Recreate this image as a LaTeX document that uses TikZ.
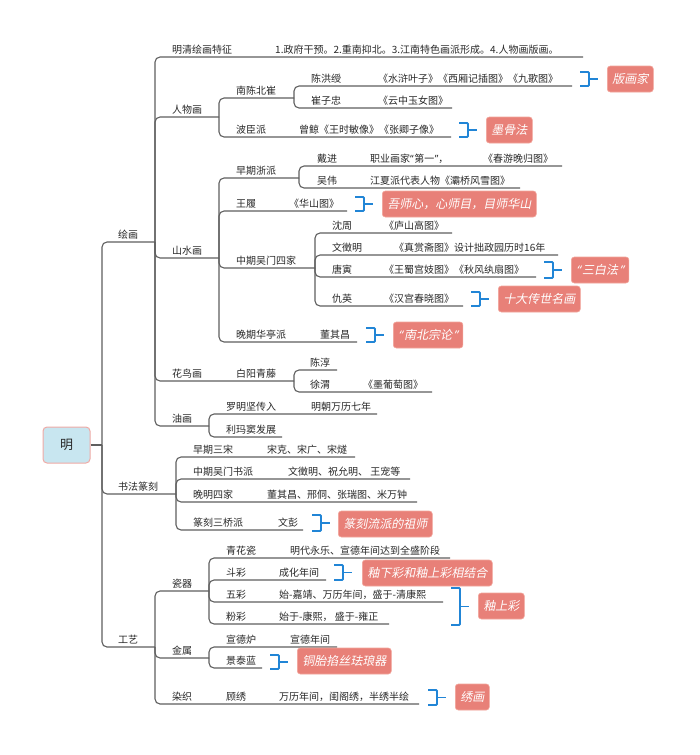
\documentclass[tikz,border=0pt]{standalone}
\usepackage{fontspec}
\newfontfamily\cjk{Noto Sans CJK SC}
\newfontfamily\cjkit{Noto Sans CJK SC}[FakeSlant=0.2]
\newfontfamily\latq{Noto Sans}
\newfontfamily\latqit{Noto Sans}[FakeSlant=0.2]
\newcommand\qL{{\latq “}\kern0.5pt}
\newcommand\qR{\kern0.5pt{\latq ”}}
\newcommand\qLi{{\latqit “}\kern1.5pt}
\newcommand\qRi{\kern1.5pt{\latqit ”}}
\definecolor{linec}{RGB}{95,95,95}
\definecolor{txtc}{RGB}{40,40,40}
\definecolor{brkc}{RGB}{33,133,214}
\definecolor{callf}{RGB}{232,128,120}
\definecolor{calld}{RGB}{242,165,155}
\definecolor{rootf}{RGB}{200,230,240}
\definecolor{rootd}{RGB}{240,170,165}
\newcommand\mybrk[4]{%
  \draw[brk] (#1,#2) -- (#1+9,#2) -- (#1+9,#3) -- (#1,#3);
  \draw[brk] (#1+9,{(#2+#3)/2}) -- (#1+18,{(#2+#3)/2});}
\begin{document}
\begin{tikzpicture}[x=1pt,y=-1pt,
  lbl/.style={anchor=base west, inner sep=0pt, yshift=3.5pt, text=txtc, font=\cjk\fontsize{10}{12}\selectfont},
  conn/.style={draw=linec, line width=1.1pt, rounded corners=5pt},
  brk/.style={draw=brkc, line width=1.8pt, rounded corners=1pt},
  call/.style={anchor=west, fill=callf, draw=calld, line width=0.6pt, rounded corners=3pt, text=white, font=\cjkit\fontsize{12}{14}\selectfont, inner xsep=5pt, inner ysep=0pt, minimum height=26pt},
  rootbox/.style={fill=rootf, draw=rootd, line width=1pt, rounded corners=4pt, minimum width=47pt, minimum height=36pt, text=txtc, font=\cjk\fontsize{13}{15}\selectfont}]
\useasboundingbox[fill=white] (0,0) rectangle (700,755);

% ---------- row end coordinates ----------
\coordinate (trunk) at (102,445);
\coordinate (hh) at (155,242);
\coordinate (sf) at (176,494);
\coordinate (gy) at (155,647);
\coordinate (mq) at (583,57);
\coordinate (rw) at (219,117);
\coordinate (ss) at (219,258);
\coordinate (hn) at (294,381);
\coordinate (yh) at (209,426);
\coordinate (nc) at (294,98);
\coordinate (bc) at (451,137);
\coordinate (chs) at (572,86);
\coordinate (czz) at (452,108);
\coordinate (zz) at (299,178);
\coordinate (wl) at (347,211);
\coordinate (wm) at (315,268);
\coordinate (ht) at (357,342);
\coordinate (dj) at (562,166);
\coordinate (ww) at (520,188);
\coordinate (sz) at (452,233);
\coordinate (wzm) at (558,255);
\coordinate (ty) at (536,277);
\coordinate (qy) at (463,306);
\coordinate (cc) at (337,370);
\coordinate (xw) at (432,392);
\coordinate (lmj) at (377,414);
\coordinate (lmd) at (282,437);
\coordinate (sfa) at (355,457);
\coordinate (sfb) at (410,479);
\coordinate (sfc) at (417,502);
\coordinate (sfd) at (303,530);
\coordinate (cq) at (209,591);
\coordinate (js) at (209,658);
\coordinate (rz) at (419,704);
\coordinate (qh) at (450,558);
\coordinate (dc) at (326,580);
\coordinate (wc) at (443,602);
\coordinate (fc) at (389,624);
\coordinate (xdl) at (337,647);
\coordinate (jtl) at (262,668);

% ---------- root ----------
\node[rootbox] (root) at (66.5,445) {明};
\draw[conn] (root.east) -- (trunk);
\foreach \c in {hh,sf,gy} \draw[conn] (trunk) |- (\c);

% ---------- connectors ----------
\foreach \c in {mq,rw,ss,hn,yh} \draw[conn] (hh) |- (\c);
\foreach \c in {nc,bc} \draw[conn] (rw) |- (\c);
\foreach \c in {chs,czz} \draw[conn] (nc) |- (\c);
\foreach \c in {zz,wl,wm,ht} \draw[conn] (ss) |- (\c);
\foreach \c in {dj,ww} \draw[conn] (zz) |- (\c);
\foreach \c in {sz,wzm,ty,qy} \draw[conn] (wm) |- (\c);
\foreach \c in {cc,xw} \draw[conn] (hn) |- (\c);
\foreach \c in {lmj,lmd} \draw[conn] (yh) |- (\c);
\foreach \c in {sfa,sfb,sfc,sfd} \draw[conn] (sf) |- (\c);
\foreach \c in {cq,js,rz} \draw[conn] (gy) |- (\c);
\foreach \c in {qh,dc,wc,fc} \draw[conn] (cq) |- (\c);
\foreach \c in {xdl,jtl} \draw[conn] (js) |- (\c);

% ---------- texts ----------
\node[lbl] (t1) at (118,242) {绘画};
\node[lbl] (t2) at (118,494) {书法篆刻};
\node[lbl] (t3) at (118,647) {工艺};

\node[lbl] (t4) at (172,57) {明清绘画特征};
\node[lbl] (t5) at (275,57) {1.政府干预。2.重南抑北。3.江南特色画派形成。4.人物画版画。};
\node[lbl] (t6) at (172,117) {人物画};
\node[lbl] (t7) at (172,258) {山水画};
\node[lbl] (t8) at (172,381) {花鸟画};
\node[lbl] (t9) at (236,381) {白阳青藤};
\node[lbl] (t10) at (172,426) {油画};

\node[lbl] (t11) at (236,98) {南陈北崔};
\node[lbl] (t12) at (236,137) {波臣派};
\node[lbl] (t13) at (299,137) {曾鲸《王时敏像》《张卿子像》};
\node[lbl] (t14) at (311,86) {陈洪绶};
\node[lbl] (t15) at (378,86) {《水浒叶子》《西厢记插图》《九歌图》};
\node[lbl] (t16) at (311,108) {崔子忠};
\node[lbl] (t17) at (378,108) {《云中玉女图》};

\node[lbl] (t18) at (236,178) {早期浙派};
\node[lbl] (t19) at (236,211) {王履};
\node[lbl] (t20) at (289,211) {《华山图》};
\node[lbl] (t21) at (236,268) {中期吴门四家};
\node[lbl] (t22) at (236,342) {晚期华亭派};
\node[lbl] (t23) at (320,342) {董其昌};

\node[lbl] (t24) at (317,166) {戴进};
\node[lbl] (t25) at (370,166) {职业画家\qL 第一\qR ，};
\node[lbl] (t26) at (483,166) {《春游晚归图》};
\node[lbl] (t27) at (317,188) {吴伟};
\node[lbl] (t28) at (370,188) {江夏派代表人物《灞桥风雪图》};

\node[lbl] (t29) at (332,233) {沈周};
\node[lbl] (t30) at (384,233) {《庐山高图》};
\node[lbl] (t31) at (332,255) {文徵明};
\node[lbl] (t32) at (394,255) {《真赏斋图》设计拙政园历时16年};
\node[lbl] (t33) at (332,277) {唐寅};
\node[lbl] (t34) at (384,277) {《王蜀宫妓图》《秋风纨扇图》};
\node[lbl] (t35) at (332,306) {仇英};
\node[lbl] (t36) at (384,306) {《汉宫春晓图》};

\node[lbl] (t37) at (310,370) {陈淳};
\node[lbl] (t38) at (310,392) {徐渭};
\node[lbl] (t39) at (363,392) {《墨葡萄图》};
\node[lbl] (t40) at (226,414) {罗明坚传入};
\node[lbl] (t41) at (311,414) {明朝万历七年};
\node[lbl] (t42) at (226,437) {利玛窦发展};

\node[lbl] (t43) at (193,457) {早期三宋};
\node[lbl] (t44) at (267,457) {宋克、宋广、宋燧};
\node[lbl] (t45) at (193,479) {中期吴门书派};
\node[lbl] (t46) at (288,479) {文徵明、祝允明、 王宠等};
\node[lbl] (t47) at (193,502) {晚明四家};
\node[lbl] (t48) at (267,502) {董其昌、邢侗、张瑞图、米万钟};
\node[lbl] (t49) at (193,530) {篆刻三桥派};
\node[lbl] (t50) at (278,530) {文彭};

\node[lbl] (t51) at (172,591) {瓷器};
\node[lbl] (t52) at (172,658) {金属};
\node[lbl] (t53) at (172,704) {染织};
\node[lbl] (t54) at (226,704) {顾绣};
\node[lbl] (t55) at (279,704) {万历年间，闺阁绣，半绣半绘};

\node[lbl] (t56) at (226,558) {青花瓷};
\node[lbl] (t57) at (290,558) {明代永乐、宣德年间达到全盛阶段};
\node[lbl] (t58) at (226,580) {斗彩};
\node[lbl] (t59) at (279,580) {成化年间};
\node[lbl] (t60) at (226,602) {五彩};
\node[lbl] (t61) at (279,602) {始-嘉靖、万历年间，盛于-清康熙};
\node[lbl] (t62) at (226,624) {粉彩};
\node[lbl] (t63) at (279,624) {始于-康熙， 盛于-雍正};
\node[lbl] (t64) at (226,647) {宣德炉};
\node[lbl] (t65) at (290,647) {宣德年间};
\node[lbl] (t66) at (226,668) {景泰蓝};

% ---------- callouts ----------
\node[call] (c1) at (607,79) {版画家};
\node[call] (c2) at (486,130) {墨骨法};
\node[call] (c3) at (382,204) {吾师心，心师目，目师华山};
\node[call] (c4) at (393,335) {\qLi 南北宗论\qRi};
\node[call] (c5) at (571,270) {\qLi 三白法\qRi};
\node[call] (c6) at (498,299) {十大传世名画};
\node[call] (c7) at (338,524) {篆刻流派的祖师};
\node[call] (c8) at (362,573) {釉下彩和釉上彩相结合};
\node[call] (c9) at (478,606) {釉上彩};
\node[call] (c10) at (297,661) {铜胎掐丝珐琅器};
\node[call] (c11) at (455,697) {绣画};

% ---------- brackets ----------
\mybrk{580}{72}{86}{c1}
\mybrk{459}{123}{137}{c2}
\mybrk{355}{197}{211}{c3}
\mybrk{366}{328}{342}{c4}
\mybrk{544}{262}{278}{c5}
\mybrk{471}{292}{306}{c6}
\mybrk{312}{515}{531}{c7}
\mybrk{334}{565}{580}{c8}
\mybrk{451}{588}{625}{c9}
\mybrk{270}{655}{669}{c10}
\mybrk{428}{690}{705}{c11}
\end{tikzpicture}
\end{document}
